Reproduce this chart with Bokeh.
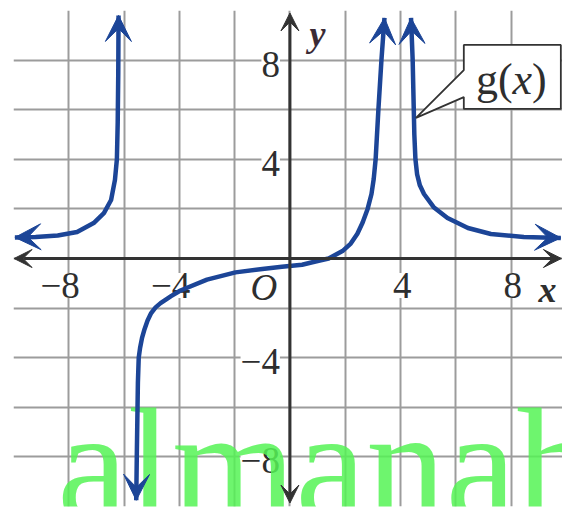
from bokeh.plotting import figure
from bokeh.models import (Range1d, Grid, FixedTicker, Arrow, VeeHead,
                          ColumnDataSource, LabelSet)
from bokeh.embed import file_html
from bokeh.resources import INLINE
from bokeh.core.properties import value

# --- g(x): three branches ------------------------------------------------
left_x = [-9.95, -9.2, -8.4, -7.7, -7.1, -6.73, -6.47, -6.33, -6.26, -6.23, -6.21, -6.2]
left_y = [0.85, 0.87, 0.93, 1.07, 1.43, 1.83, 2.36, 3.17, 4.0, 5.5, 7.5, 9.8]

mid_x = [-5.56, -5.54, -5.52, -5.5, -5.47, -5.42, -5.35, -5.26, -5.15, -5.02,
         -4.86, -4.68, -4.3, -3.96, -3.0, -1.97, -1.0, -0.29, 0.44, 1.0, 1.4,
         1.9, 2.2, 2.44, 2.63, 2.81, 2.95, 3.03, 3.1, 3.2, 3.31, 3.42]
mid_y = [-9.75, -8.0, -6.5, -5.0, -4.0, -3.6, -3.2, -2.85, -2.5, -2.2,
         -1.97, -1.8, -1.52, -1.29, -0.85, -0.56, -0.42, -0.33, -0.25, -0.1, 0.0,
         0.3, 0.6, 1.0, 1.45, 2.0, 2.6, 3.2, 4.0, 6.0, 8.0, 9.7]

right_x = [4.38, 4.44, 4.48, 4.5, 4.54, 4.6, 4.7, 4.85, 5.2, 5.7, 6.44, 7.27, 8.46, 9.8]
right_y = [9.7, 8.0, 6.0, 5.0, 4.0, 3.4, 2.95, 2.6, 2.07, 1.63, 1.23, 0.99, 0.87, 0.83]

# --- grid and tick labels --------------------------------------------------
grid_ticks = list(range(-10, 11, 2))
x_tick_vals = [-8, -4, 4, 8]
x_tick_text = ["\u22128", "\u22124", "4", "8"]
y_tick_vals = [8, 4, -4, -8]
y_tick_text = ["8", "4", "\u22124", "\u22128"]

CURVE = "#1c4597"
AXIS = "#333333"
GRID = "#9c9c9c"
TEXT = "#2e2e2e"
SERIF = "Liberation Serif"

# axis extents (arrow tips)
X_AXIS_ENDS = (-9.98, 9.82)
Y_AXIS_ENDS = (-9.86, 9.9)

# callout around the curve name
CALLOUT_X = [6.29, 9.80, 9.80, 6.29, 6.29, 4.56, 6.29]
CALLOUT_Y = [8.61, 8.61, 6.03, 6.03, 6.51, 5.67, 7.60]

p = figure(width=562, height=507,
           x_range=Range1d(-10, 9.86), y_range=Range1d(-10, 10),
           x_axis_type=None, y_axis_type=None,
           toolbar_location=None, output_backend="svg",
           min_border_left=13, min_border_right=0,
           min_border_top=10, min_border_bottom=1,
           outline_line_color=None,
           background_fill_color="white", border_fill_color="white")

for dim in (0, 1):
    p.add_layout(Grid(dimension=dim, ticker=FixedTicker(ticks=grid_ticks),
                      grid_line_color=GRID, grid_line_width=2))

# tick labels (white boxes break the grid lines behind them)
xsrc = ColumnDataSource(dict(x=x_tick_vals, y=[0] * len(x_tick_vals), t=x_tick_text))
ysrc = ColumnDataSource(dict(x=[0] * len(y_tick_vals), y=y_tick_vals, t=y_tick_text))
p.add_layout(LabelSet(x="x", y="y", text="t", source=xsrc, level="underlay",
                      text_align="right", text_baseline="middle",
                      x_offset=11, y_offset=-27,
                      text_font=value(SERIF), text_font_size="37px",
                      text_color=TEXT, background_fill_color="white"))
p.add_layout(LabelSet(x="x", y="y", text="t", source=ysrc, level="underlay",
                      text_align="right", text_baseline="middle",
                      x_offset=-10, y_offset=-4,
                      text_font=value(SERIF), text_font_size="37px",
                      text_color=TEXT, background_fill_color="white"))
osrc = ColumnDataSource(dict(x=[0], y=[0], t=["O"]))
p.add_layout(LabelSet(x="x", y="y", text="t", source=osrc, level="underlay",
                      text_align="center", text_baseline="middle",
                      x_offset=-26, y_offset=-29,
                      text_font=value(SERIF), text_font_size="37px",
                      text_font_style="italic", text_color=TEXT))

# site watermark across the bottom
p.text(x=[-8.42], y=[-8.28], text=["almanah"], text_font=value(SERIF),
       text_font_size="159px",
       text_color="#55f355", text_alpha=0.85,
       text_baseline="middle", text_align="left")

# axes with arrow tips at both ends
p.add_layout(Arrow(start=VeeHead(size=18, fill_color=AXIS, line_color=AXIS),
                   end=VeeHead(size=18, fill_color=AXIS, line_color=AXIS),
                   x_start=X_AXIS_ENDS[0], y_start=0, x_end=X_AXIS_ENDS[1], y_end=0,
                   line_color=AXIS, line_width=3))
p.add_layout(Arrow(start=VeeHead(size=18, fill_color=AXIS, line_color=AXIS),
                   end=VeeHead(size=18, fill_color=AXIS, line_color=AXIS),
                   x_start=0, y_start=Y_AXIS_ENDS[0], x_end=0, y_end=Y_AXIS_ENDS[1],
                   line_color=AXIS, line_width=3))

# axis names
p.text(x=[9.32], y=[-1.29], text=["x"], text_font=value(SERIF), text_font_size="36px",
       text_font_style="bold italic", text_color=TEXT,
       text_align="center", text_baseline="middle")
p.text(x=[1.0], y=[9.07], text=["y"], text_font=value(SERIF), text_font_size="36px",
       text_font_style="bold italic", text_color="#3b2b35",
       text_align="center", text_baseline="middle")

# the curve with arrow tips at every open end
for xs, ys in ((left_x, left_y), (mid_x, mid_y), (right_x, right_y)):
    p.line(xs, ys, line_width=4.5, line_color=CURVE, line_join="round")
    for (x0, y0), (x1, y1) in (((xs[1], ys[1]), (xs[0], ys[0])),
                               ((xs[-2], ys[-2]), (xs[-1], ys[-1]))):
        p.add_layout(Arrow(end=VeeHead(size=26, fill_color=CURVE, line_color=CURVE,
                                       line_width=1),
                           x_start=x0, y_start=y0, x_end=x1, y_end=y1,
                           line_alpha=0))

# callout box naming the function
p.patch(CALLOUT_X, CALLOUT_Y, fill_color="white", line_color=AXIS, line_width=1.8)
p.text(x=[6.73], y=[7.22], text=["g("], text_font=value(SERIF), text_font_size="44px",
       text_color=TEXT, text_align="left", text_baseline="middle")
p.text(x=[8.05], y=[7.22], text=["x"], text_font=value(SERIF), text_font_size="44px",
       text_font_style="italic", text_color=TEXT, text_align="left",
       text_baseline="middle")
p.text(x=[8.76], y=[7.22], text=[")"], text_font=value(SERIF), text_font_size="44px",
       text_color=TEXT, text_align="left", text_baseline="middle")

open("out.html", "w").write(file_html(p, INLINE))
